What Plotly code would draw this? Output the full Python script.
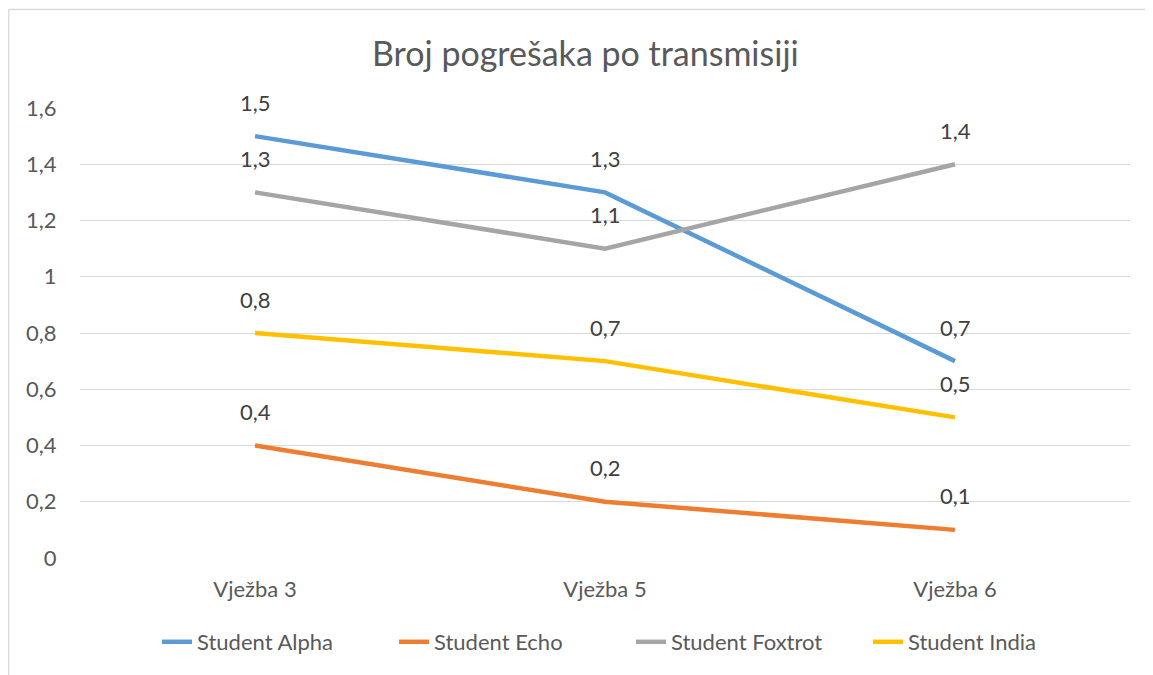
import plotly.graph_objects as go

categories = ["Vježba 3", "Vježba 5", "Vježba 6"]
series_names = ["Student Alpha", "Student Echo", "Student Foxtrot", "Student India"]
alpha = [1.5, 1.3, 0.7]
echo = [0.4, 0.2, 0.1]
foxtrot = [1.3, 1.1, 1.4]
india = [0.8, 0.7, 0.5]
y_ticks = [0, 0.2, 0.4, 0.6, 0.8, 1.0, 1.2, 1.4, 1.6]

series_values = [alpha, echo, foxtrot, india]
colors = ["#5B9BD5", "#ED7D31", "#A5A5A5", "#FFC000"]
FONT = "Lato"
TXT = "#595959"

# page has an 8px body margin; figure sized so the page does not overflow sideways
W, H = 1137, 667
L, T, PW, PH = 72, 100, 1050, 450


def px_x(p):
    return (p - L) / PW


def px_y(p):
    return (T + PH - p) / PH


fig = go.Figure()
annotations = []
for name, vals, col in zip(series_names, series_values, colors):
    fig.add_trace(go.Scatter(
        x=list(range(len(categories))), y=vals, name=name, mode="lines",
        line=dict(color=col, width=4.5), hoverinfo="skip"))
    for i, v in enumerate(vals):
        annotations.append(dict(
            x=i, y=v, xref="x", yref="y", text=f"{v:g}".replace(".", ","),
            showarrow=False, yshift=34, font=dict(family=FONT, size=22, color="#404040")))

annotations.append(dict(
    x=px_x(577), y=px_y(44), xref="paper", yref="paper",
    text="Broj pogrešaka po transmisiji", showarrow=False,
    xanchor="center", yanchor="middle",
    font=dict(family=FONT, size=34, color=TXT)))

fig.update_layout(
    width=W, height=H,
    margin=dict(l=L, r=W - L - PW, t=T, b=H - T - PH, autoexpand=False),
    paper_bgcolor="white", plot_bgcolor="white",
    separators=", ",
    font=dict(family=FONT, size=22, color=TXT),
    showlegend=True,
    legend=dict(orientation="h", x=px_x(149), xanchor="left",
                y=px_y(634), yanchor="middle",
                font=dict(family=FONT, size=22, color=TXT),
                entrywidth=192, entrywidthmode="pixels",
                traceorder="normal", tracegroupgap=0),
    xaxis=dict(range=[-0.5, 2.5], tickvals=list(range(len(categories))), ticktext=categories,
               showgrid=False, zeroline=False, showline=False, ticks="outside", ticklen=12,
               tickcolor="rgba(0,0,0,0)", tickfont=dict(family=FONT, size=22, color=TXT),
               automargin=False, fixedrange=True),
    yaxis=dict(range=[0, 1.6], tickvals=y_ticks, showgrid=True, gridcolor="#D9D9D9", gridwidth=1.3,
               zeroline=False, showline=False, ticks="outside", ticklen=18,
               tickcolor="rgba(0,0,0,0)", tickfont=dict(family=FONT, size=22, color=TXT),
               automargin=False, fixedrange=True),
    annotations=annotations,
)

# chart-area border (top and left edges; the rest lies outside the crop)
border = dict(color="#D9D9D9", width=1.3)
fig.add_shape(type="line", xref="paper", yref="paper",
              x0=px_x(0.7), x1=px_x(W), y0=px_y(1.5), y1=px_y(1.5), line=border, layer="below")
fig.add_shape(type="line", xref="paper", yref="paper",
              x0=px_x(0.7), x1=px_x(0.7), y0=px_y(1.5), y1=px_y(H), line=border, layer="below")

fig.write_html("out.html")
